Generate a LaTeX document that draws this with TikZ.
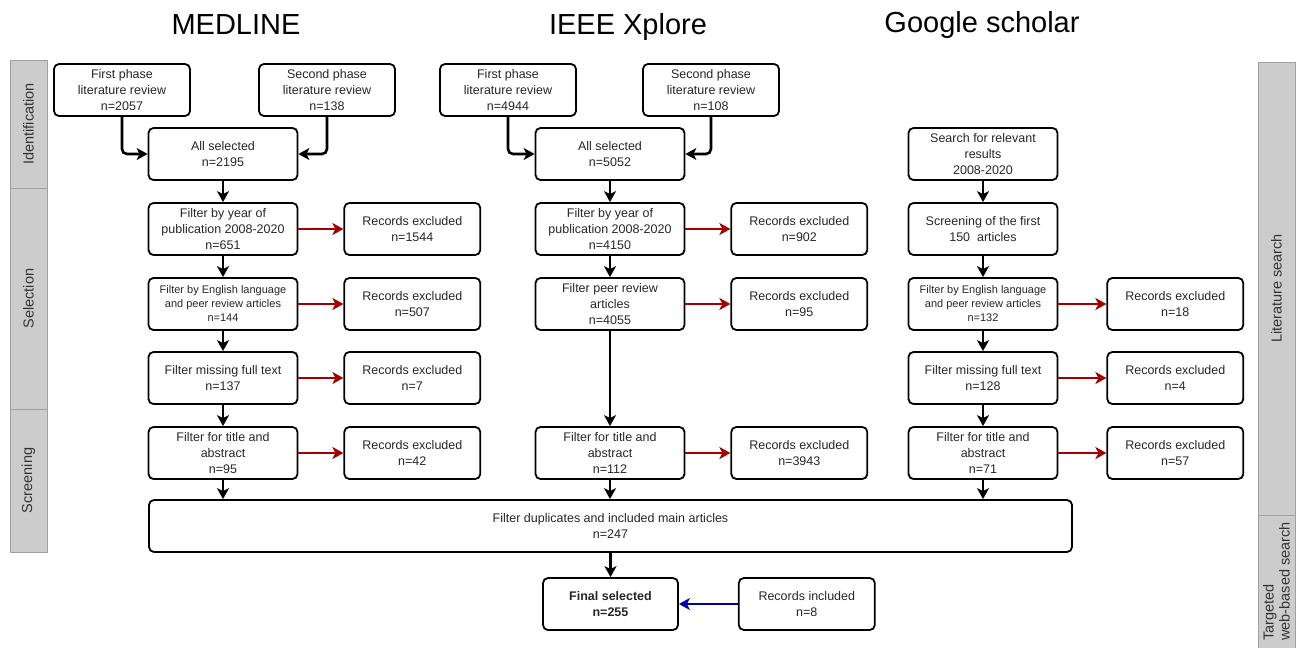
\documentclass[tikz,border=0pt]{standalone}
\usepackage{fontspec}
\setmainfont{Liberation Sans}
\usetikzlibrary{arrows.meta, positioning}

\definecolor{exclred}{HTML}{A20000}
\definecolor{inclblue}{HTML}{0000A2}
\definecolor{bargray}{HTML}{CCCCCC}
\definecolor{barline}{HTML}{A0A0A0}

\tikzset{
    box/.style={draw, line width=1.8pt, rounded corners=5pt, align=center,
        minimum width=149pt, minimum height=52pt, inner sep=2pt, text=black!85,
        font=\fontsize{12.5}{16}\selectfont},
    srcbox/.style={box, minimum width=136pt},
    exclbox/.style={box, minimum width=136pt},
    smalltext/.style={font=\fontsize{11}{14}\selectfont},
    dbtitle/.style={font=\fontsize{29}{32}\selectfont},
    sidebar/.style={draw=barline, fill=bargray, line width=0.8pt, rotate=90,
        minimum height=37pt, inner sep=0pt, align=left,
        font=\fontsize{14.5}{16}\selectfont, text=black!80},
    flow/.style={line width=2.6pt, -{Stealth[length=11pt, width=12pt, inset=3pt]}},
    exclflow/.style={flow, exclred},
    inclflow/.style={flow, inclblue},
}

\begin{document}
\begin{tikzpicture}[x=1pt, y=-1pt, node distance=45pt]
    \useasboundingbox (0,0) rectangle (1296,648);

    % database titles
    \node [dbtitle] (tMed) at (236,25) {MEDLINE};
    \node [dbtitle] (tIeee) at (628,27) {IEEE Xplore};
    \node [dbtitle] (tGoo) at (982,25) {Google scholar};

    % side bars
    \node [sidebar, minimum width=128pt] (sIdent) at (28.5,124) {Identification};
    \node [sidebar, minimum width=221pt] (sSel) at (28.5,298.5) {Selection};
    \node [sidebar, minimum width=143pt] (sScreen) at (28.5,480.5) {Screening};
    \node [sidebar, minimum width=453pt] (sLit) at (1276.5,288.5) {Literature search};
    \node [sidebar, minimum width=133pt] (sWeb) at (1276.5,581.5) {Targeted\\web-based search};

    % MEDLINE
    \node [srcbox] (m1) at (122,90) {First phase\\literature review\\n=2057};
    \node [srcbox] (m2) at (327,90) {Second phase\\literature review\\n=138};
    \node [box] (mAll) at (223,154) {All selected\\n=2195};
    \node [box] (mYear) at (223,229) {Filter by year of\\publication 2008-2020\\n=651};
    \node [box, smalltext] (mLang) at (223,304) {Filter by English language\\and peer review articles\\n=144};
    \node [box] (mText) at (223,378) {Filter missing full text\\n=137};
    \node [box] (mTitle) at (223,453) {Filter for title and\\abstract\\n=95};
    \node [exclbox, right=of mYear] (mYearEx) {Records excluded\\n=1544};
    \node [exclbox, right=of mLang] (mLangEx) {Records excluded\\n=507};
    \node [exclbox, right=of mText] (mTextEx) {Records excluded\\n=7};
    \node [exclbox, right=of mTitle] (mTitleEx) {Records excluded\\n=42};

    % IEEE Xplore
    \node [srcbox] (i1) at (508,90) {First phase\\literature review\\n=4944};
    \node [srcbox] (i2) at (711,90) {Second phase\\literature review\\n=108};
    \node [box] (iAll) at (610,154) {All selected\\n=5052};
    \node [box] (iYear) at (610,229) {Filter by year of\\publication 2008-2020\\n=4150};
    \node [box] (iPeer) at (610,304) {Filter peer review\\articles\\n=4055};
    \node [box] (iTitle) at (610,453) {Filter for title and\\abstract\\n=112};
    \node [exclbox, right=of iYear] (iYearEx) {Records excluded\\n=902};
    \node [exclbox, right=of iPeer] (iPeerEx) {Records excluded\\n=95};
    \node [exclbox, right=of iTitle] (iTitleEx) {Records excluded\\n=3943};

    % Google scholar
    \node [box] (gSearch) at (983,154) {Search for relevant\\results\\2008-2020};
    \node [box] (gFirst) at (983,229) {Screening of the first\\150\ \ articles};
    \node [box, smalltext] (gLang) at (983,304) {Filter by English language\\and peer review articles\\n=132};
    \node [box] (gText) at (983,378) {Filter missing full text\\n=128};
    \node [box] (gTitle) at (983,453) {Filter for title and\\abstract\\n=71};
    \node [exclbox, right=48pt of gLang] (gLangEx) {Records excluded\\n=18};
    \node [exclbox, right=48pt of gText] (gTextEx) {Records excluded\\n=4};
    \node [exclbox, right=48pt of gTitle] (gTitleEx) {Records excluded\\n=57};

    % merged
    \node [box, minimum width=923pt] (dup) at (610.5,526) {Filter duplicates and included main articles\\n=247};
    \node [box, minimum width=135pt] (final) at (610.5,604) {\textbf{Final selected}\\\textbf{n=255}};
    \node [exclbox, right=59pt of final] (incl) {Records included\\n=8};

    % connectors
    \draw [flow, rounded corners=5pt] (m1.south) |- (mAll.west);
    \draw [flow, rounded corners=5pt] (m2.south) |- (mAll.east);
    \draw [flow, rounded corners=5pt] (i1.south) |- (iAll.west);
    \draw [flow, rounded corners=5pt] (i2.south) |- (iAll.east);

    \draw [flow] (mAll) -- (mYear);
    \draw [flow] (mYear) -- (mLang);
    \draw [flow] (mLang) -- (mText);
    \draw [flow] (mText) -- (mTitle);
    \draw [flow] (iAll) -- (iYear);
    \draw [flow] (iYear) -- (iPeer);
    \draw [flow] (iPeer) -- (iTitle);
    \foreach \a/\b in {gSearch/gFirst, gFirst/gLang, gLang/gText, gText/gTitle} {
        \draw [flow] (\a) -- (\b);
    }
    \foreach \t in {mTitle, iTitle, gTitle} {
        \draw [flow] (\t.south) -- (\t.south |- dup.north);
    }
    \draw [flow] (dup) -- (final);

    \foreach \f in {mYear, mLang, mText, mTitle, iYear, iPeer, iTitle, gLang, gText, gTitle} {
        \draw [exclflow] (\f) -- (\f Ex);
    }
    \draw [inclflow] (incl) -- (final);
\end{tikzpicture}
\end{document}
